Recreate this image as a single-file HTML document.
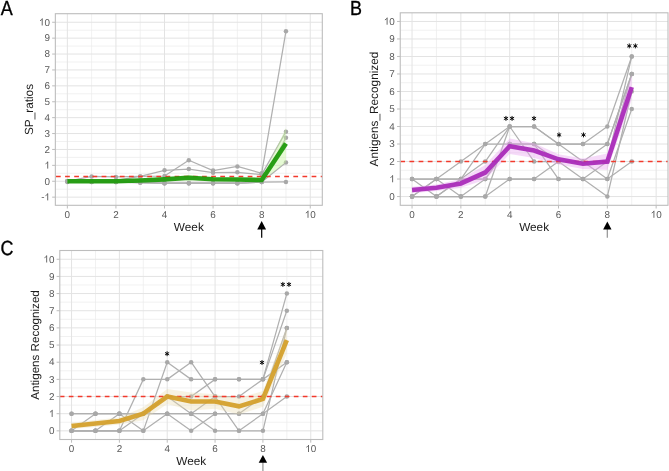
<!DOCTYPE html>
<html><head><meta charset="utf-8"><title>Figure</title>
<style>
html,body{margin:0;padding:0;background:#fff;}
body{width:669px;height:471px;overflow:hidden;font-family:"Liberation Sans", sans-serif;}
svg{display:block;will-change:transform;text-rendering:geometricPrecision;}
</style></head><body>
<svg width="669" height="471" viewBox="0 0 669 471" font-family='"Liberation Sans", sans-serif'>
<rect width="669" height="471" fill="#fff"/>
<text transform="translate(0.8,14.6) scale(0.88,1)" font-size="20.4" fill="#000" stroke="#000" stroke-width="0.35">A</text>
<text transform="translate(350.1,14.8) scale(0.88,1)" font-size="20.4" fill="#000" stroke="#000" stroke-width="0.35">B</text>
<text transform="translate(0.6,255.4) scale(0.88,1)" font-size="20.4" fill="#000" stroke="#000" stroke-width="0.35">C</text>
<line x1="91.64" y1="13.7" x2="91.64" y2="205.3" stroke="#ebebeb" stroke-width="0.7"/>
<line x1="140.22" y1="13.7" x2="140.22" y2="205.3" stroke="#ebebeb" stroke-width="0.7"/>
<line x1="188.8" y1="13.7" x2="188.8" y2="205.3" stroke="#ebebeb" stroke-width="0.7"/>
<line x1="237.38" y1="13.7" x2="237.38" y2="205.3" stroke="#ebebeb" stroke-width="0.7"/>
<line x1="285.96" y1="13.7" x2="285.96" y2="205.3" stroke="#ebebeb" stroke-width="0.7"/>
<line x1="55.35" y1="189.2" x2="322.3" y2="189.2" stroke="#ebebeb" stroke-width="0.7"/>
<line x1="55.35" y1="173.3" x2="322.3" y2="173.3" stroke="#ebebeb" stroke-width="0.7"/>
<line x1="55.35" y1="157.4" x2="322.3" y2="157.4" stroke="#ebebeb" stroke-width="0.7"/>
<line x1="55.35" y1="141.5" x2="322.3" y2="141.5" stroke="#ebebeb" stroke-width="0.7"/>
<line x1="55.35" y1="125.6" x2="322.3" y2="125.6" stroke="#ebebeb" stroke-width="0.7"/>
<line x1="55.35" y1="109.7" x2="322.3" y2="109.7" stroke="#ebebeb" stroke-width="0.7"/>
<line x1="55.35" y1="93.8" x2="322.3" y2="93.8" stroke="#ebebeb" stroke-width="0.7"/>
<line x1="55.35" y1="77.9" x2="322.3" y2="77.9" stroke="#ebebeb" stroke-width="0.7"/>
<line x1="55.35" y1="62" x2="322.3" y2="62" stroke="#ebebeb" stroke-width="0.7"/>
<line x1="55.35" y1="46.1" x2="322.3" y2="46.1" stroke="#ebebeb" stroke-width="0.7"/>
<line x1="55.35" y1="30.2" x2="322.3" y2="30.2" stroke="#ebebeb" stroke-width="0.7"/>
<line x1="67.35" y1="13.7" x2="67.35" y2="205.3" stroke="#e3e3e3" stroke-width="1"/>
<line x1="115.93" y1="13.7" x2="115.93" y2="205.3" stroke="#e3e3e3" stroke-width="1"/>
<line x1="164.51" y1="13.7" x2="164.51" y2="205.3" stroke="#e3e3e3" stroke-width="1"/>
<line x1="213.09" y1="13.7" x2="213.09" y2="205.3" stroke="#e3e3e3" stroke-width="1"/>
<line x1="261.67" y1="13.7" x2="261.67" y2="205.3" stroke="#e3e3e3" stroke-width="1"/>
<line x1="310.25" y1="13.7" x2="310.25" y2="205.3" stroke="#e3e3e3" stroke-width="1"/>
<line x1="55.35" y1="197.15" x2="322.3" y2="197.15" stroke="#e3e3e3" stroke-width="1"/>
<line x1="55.35" y1="181.25" x2="322.3" y2="181.25" stroke="#e3e3e3" stroke-width="1"/>
<line x1="55.35" y1="165.35" x2="322.3" y2="165.35" stroke="#e3e3e3" stroke-width="1"/>
<line x1="55.35" y1="149.45" x2="322.3" y2="149.45" stroke="#e3e3e3" stroke-width="1"/>
<line x1="55.35" y1="133.55" x2="322.3" y2="133.55" stroke="#e3e3e3" stroke-width="1"/>
<line x1="55.35" y1="117.65" x2="322.3" y2="117.65" stroke="#e3e3e3" stroke-width="1"/>
<line x1="55.35" y1="101.75" x2="322.3" y2="101.75" stroke="#e3e3e3" stroke-width="1"/>
<line x1="55.35" y1="85.85" x2="322.3" y2="85.85" stroke="#e3e3e3" stroke-width="1"/>
<line x1="55.35" y1="69.95" x2="322.3" y2="69.95" stroke="#e3e3e3" stroke-width="1"/>
<line x1="55.35" y1="54.05" x2="322.3" y2="54.05" stroke="#e3e3e3" stroke-width="1"/>
<line x1="55.35" y1="38.15" x2="322.3" y2="38.15" stroke="#e3e3e3" stroke-width="1"/>
<line x1="55.35" y1="22.25" x2="322.3" y2="22.25" stroke="#e3e3e3" stroke-width="1"/>
<polyline points="67.35,181.25 91.64,176.48 115.93,176.96 140.22,176.48 164.51,176 188.8,160.26 213.09,170.6 237.38,166.46 261.67,173.3 285.96,31.15" fill="none" stroke="#b0b0b0" stroke-width="1.25" stroke-linejoin="round"/>
<polyline points="67.35,181.25 91.64,181.25 115.93,180.46 140.22,176.48 164.51,170.28 188.8,169.01 213.09,172.66 237.38,172.35 261.67,174.57 285.96,131.64" fill="none" stroke="#b0b0b0" stroke-width="1.25" stroke-linejoin="round"/>
<polyline points="67.35,182.04 91.64,181.57 115.93,182.04 140.22,182.52 164.51,183.16 188.8,183.16 213.09,183.16 237.38,183.16 261.67,182.04 285.96,137.68" fill="none" stroke="#b0b0b0" stroke-width="1.25" stroke-linejoin="round"/>
<polyline points="67.35,181.25 91.64,182.04 115.93,182.04 140.22,182.52 164.51,183.16 188.8,183.16 213.09,183.16 237.38,183.16 261.67,182.04 285.96,162.49" fill="none" stroke="#b0b0b0" stroke-width="1.25" stroke-linejoin="round"/>
<polyline points="67.35,181.25 91.64,182.04 115.93,182.04 140.22,182.52 164.51,183.16 188.8,183.16 213.09,183.16 237.38,183.16 261.67,182.04 285.96,181.89" fill="none" stroke="#b0b0b0" stroke-width="1.25" stroke-linejoin="round"/>
<circle cx="67.35" cy="181.25" r="2.25" fill="#a8a8a8"/>
<circle cx="91.64" cy="176.48" r="2.25" fill="#a8a8a8"/>
<circle cx="115.93" cy="176.96" r="2.25" fill="#a8a8a8"/>
<circle cx="140.22" cy="176.48" r="2.25" fill="#a8a8a8"/>
<circle cx="164.51" cy="176" r="2.25" fill="#a8a8a8"/>
<circle cx="188.8" cy="160.26" r="2.25" fill="#a8a8a8"/>
<circle cx="213.09" cy="170.6" r="2.25" fill="#a8a8a8"/>
<circle cx="237.38" cy="166.46" r="2.25" fill="#a8a8a8"/>
<circle cx="261.67" cy="173.3" r="2.25" fill="#a8a8a8"/>
<circle cx="285.96" cy="31.15" r="2.25" fill="#a8a8a8"/>
<circle cx="67.35" cy="181.25" r="2.25" fill="#a8a8a8"/>
<circle cx="91.64" cy="181.25" r="2.25" fill="#a8a8a8"/>
<circle cx="115.93" cy="180.46" r="2.25" fill="#a8a8a8"/>
<circle cx="140.22" cy="176.48" r="2.25" fill="#a8a8a8"/>
<circle cx="164.51" cy="170.28" r="2.25" fill="#a8a8a8"/>
<circle cx="188.8" cy="169.01" r="2.25" fill="#a8a8a8"/>
<circle cx="213.09" cy="172.66" r="2.25" fill="#a8a8a8"/>
<circle cx="237.38" cy="172.35" r="2.25" fill="#a8a8a8"/>
<circle cx="261.67" cy="174.57" r="2.25" fill="#a8a8a8"/>
<circle cx="285.96" cy="131.64" r="2.25" fill="#a8a8a8"/>
<circle cx="67.35" cy="182.04" r="2.25" fill="#a8a8a8"/>
<circle cx="91.64" cy="181.57" r="2.25" fill="#a8a8a8"/>
<circle cx="115.93" cy="182.04" r="2.25" fill="#a8a8a8"/>
<circle cx="140.22" cy="182.52" r="2.25" fill="#a8a8a8"/>
<circle cx="164.51" cy="183.16" r="2.25" fill="#a8a8a8"/>
<circle cx="188.8" cy="183.16" r="2.25" fill="#a8a8a8"/>
<circle cx="213.09" cy="183.16" r="2.25" fill="#a8a8a8"/>
<circle cx="237.38" cy="183.16" r="2.25" fill="#a8a8a8"/>
<circle cx="261.67" cy="182.04" r="2.25" fill="#a8a8a8"/>
<circle cx="285.96" cy="137.68" r="2.25" fill="#a8a8a8"/>
<circle cx="67.35" cy="181.25" r="2.25" fill="#a8a8a8"/>
<circle cx="91.64" cy="182.04" r="2.25" fill="#a8a8a8"/>
<circle cx="115.93" cy="182.04" r="2.25" fill="#a8a8a8"/>
<circle cx="140.22" cy="182.52" r="2.25" fill="#a8a8a8"/>
<circle cx="164.51" cy="183.16" r="2.25" fill="#a8a8a8"/>
<circle cx="188.8" cy="183.16" r="2.25" fill="#a8a8a8"/>
<circle cx="213.09" cy="183.16" r="2.25" fill="#a8a8a8"/>
<circle cx="237.38" cy="183.16" r="2.25" fill="#a8a8a8"/>
<circle cx="261.67" cy="182.04" r="2.25" fill="#a8a8a8"/>
<circle cx="285.96" cy="162.49" r="2.25" fill="#a8a8a8"/>
<circle cx="67.35" cy="181.25" r="2.25" fill="#a8a8a8"/>
<circle cx="91.64" cy="182.04" r="2.25" fill="#a8a8a8"/>
<circle cx="115.93" cy="182.04" r="2.25" fill="#a8a8a8"/>
<circle cx="140.22" cy="182.52" r="2.25" fill="#a8a8a8"/>
<circle cx="164.51" cy="183.16" r="2.25" fill="#a8a8a8"/>
<circle cx="188.8" cy="183.16" r="2.25" fill="#a8a8a8"/>
<circle cx="213.09" cy="183.16" r="2.25" fill="#a8a8a8"/>
<circle cx="237.38" cy="183.16" r="2.25" fill="#a8a8a8"/>
<circle cx="261.67" cy="182.04" r="2.25" fill="#a8a8a8"/>
<circle cx="285.96" cy="181.89" r="2.25" fill="#a8a8a8"/>
<polygon points="67.35,180.46 91.64,180.14 115.93,179.98 140.22,179.02 164.51,177.75 188.8,174.89 213.09,177.75 237.38,178.07 261.67,178.71 285.96,127.98 285.96,162.17 261.67,181.25 237.38,180.93 213.09,180.77 188.8,180.46 164.51,180.93 140.22,181.25 115.93,181.57 91.64,181.73 67.35,182.04" fill="#c4f29a" fill-opacity="0.42"/>
<line x1="55.35" y1="176.48" x2="322.3" y2="176.48" stroke="#f23a2c" stroke-width="1.5" stroke-dasharray="4.75 4.38" stroke-dashoffset="-0.6"/>
<polyline points="67.35,181.25 91.64,181.25 115.93,181.25 140.22,180.46 164.51,179.34 188.8,177.75 213.09,179.18 237.38,179.5 261.67,179.98 285.96,143.41" fill="none" stroke="#1f9a0c" stroke-width="4.6" stroke-linejoin="miter" stroke-linecap="butt" stroke-opacity="0.95"/>
<rect x="55.35" y="13.7" width="266.95" height="191.6" fill="none" stroke="#bdbdbd" stroke-width="1.1"/>
<line x1="67.35" y1="205.3" x2="67.35" y2="208.5" stroke="#bdbdbd" stroke-width="1"/>
<text x="64.6" y="217.8" font-size="9.9" fill="#5a5a5a">0</text>
<line x1="115.93" y1="205.3" x2="115.93" y2="208.5" stroke="#bdbdbd" stroke-width="1"/>
<text x="113.18" y="217.8" font-size="9.9" fill="#5a5a5a">2</text>
<line x1="164.51" y1="205.3" x2="164.51" y2="208.5" stroke="#bdbdbd" stroke-width="1"/>
<text x="161.76" y="217.8" font-size="9.9" fill="#5a5a5a">4</text>
<line x1="213.09" y1="205.3" x2="213.09" y2="208.5" stroke="#bdbdbd" stroke-width="1"/>
<text x="210.34" y="217.8" font-size="9.9" fill="#5a5a5a">6</text>
<line x1="261.67" y1="205.3" x2="261.67" y2="208.5" stroke="#bdbdbd" stroke-width="1"/>
<text x="258.92" y="217.8" font-size="9.9" fill="#5a5a5a">8</text>
<line x1="310.25" y1="205.3" x2="310.25" y2="208.5" stroke="#bdbdbd" stroke-width="1"/>
<path d="M308.01,217.8V210.87M308.21,211.17C307.42,212.06 306.63,212.55 305.83,213.05" stroke="#5a5a5a" stroke-width="0.91" fill="none"/><text x="310.25" y="217.8" font-size="9.9" fill="#5a5a5a">0</text>
<line x1="52.15" y1="197.15" x2="55.35" y2="197.15" stroke="#bdbdbd" stroke-width="1"/>
<text x="41.15" y="200.4" font-size="9.9" fill="#5a5a5a">-</text><path d="M47.71,200.4V193.47M47.91,193.77C47.12,194.66 46.33,195.15 45.53,195.65" stroke="#5a5a5a" stroke-width="0.91" fill="none"/>
<line x1="52.15" y1="181.25" x2="55.35" y2="181.25" stroke="#bdbdbd" stroke-width="1"/>
<text x="44.45" y="184.5" font-size="9.9" fill="#5a5a5a">0</text>
<line x1="52.15" y1="165.35" x2="55.35" y2="165.35" stroke="#bdbdbd" stroke-width="1"/>
<path d="M47.71,168.6V161.67M47.91,161.97C47.12,162.86 46.33,163.35 45.53,163.85" stroke="#5a5a5a" stroke-width="0.91" fill="none"/>
<line x1="52.15" y1="149.45" x2="55.35" y2="149.45" stroke="#bdbdbd" stroke-width="1"/>
<text x="44.45" y="152.7" font-size="9.9" fill="#5a5a5a">2</text>
<line x1="52.15" y1="133.55" x2="55.35" y2="133.55" stroke="#bdbdbd" stroke-width="1"/>
<text x="44.45" y="136.8" font-size="9.9" fill="#5a5a5a">3</text>
<line x1="52.15" y1="117.65" x2="55.35" y2="117.65" stroke="#bdbdbd" stroke-width="1"/>
<text x="44.45" y="120.9" font-size="9.9" fill="#5a5a5a">4</text>
<line x1="52.15" y1="101.75" x2="55.35" y2="101.75" stroke="#bdbdbd" stroke-width="1"/>
<text x="44.45" y="105" font-size="9.9" fill="#5a5a5a">5</text>
<line x1="52.15" y1="85.85" x2="55.35" y2="85.85" stroke="#bdbdbd" stroke-width="1"/>
<text x="44.45" y="89.1" font-size="9.9" fill="#5a5a5a">6</text>
<line x1="52.15" y1="69.95" x2="55.35" y2="69.95" stroke="#bdbdbd" stroke-width="1"/>
<text x="44.45" y="73.2" font-size="9.9" fill="#5a5a5a">7</text>
<line x1="52.15" y1="54.05" x2="55.35" y2="54.05" stroke="#bdbdbd" stroke-width="1"/>
<text x="44.45" y="57.3" font-size="9.9" fill="#5a5a5a">8</text>
<line x1="52.15" y1="38.15" x2="55.35" y2="38.15" stroke="#bdbdbd" stroke-width="1"/>
<text x="44.45" y="41.4" font-size="9.9" fill="#5a5a5a">9</text>
<line x1="52.15" y1="22.25" x2="55.35" y2="22.25" stroke="#bdbdbd" stroke-width="1"/>
<path d="M42.21,25.5V18.57M42.41,18.87C41.61,19.76 40.82,20.25 40.03,20.75" stroke="#5a5a5a" stroke-width="0.91" fill="none"/><text x="44.45" y="25.5" font-size="9.9" fill="#5a5a5a">0</text>
<line x1="436.46" y1="12.8" x2="436.46" y2="205.3" stroke="#ebebeb" stroke-width="0.7"/>
<line x1="485.28" y1="12.8" x2="485.28" y2="205.3" stroke="#ebebeb" stroke-width="0.7"/>
<line x1="534.1" y1="12.8" x2="534.1" y2="205.3" stroke="#ebebeb" stroke-width="0.7"/>
<line x1="582.92" y1="12.8" x2="582.92" y2="205.3" stroke="#ebebeb" stroke-width="0.7"/>
<line x1="631.74" y1="12.8" x2="631.74" y2="205.3" stroke="#ebebeb" stroke-width="0.7"/>
<line x1="400.25" y1="187.8" x2="668" y2="187.8" stroke="#ebebeb" stroke-width="0.7"/>
<line x1="400.25" y1="170.29" x2="668" y2="170.29" stroke="#ebebeb" stroke-width="0.7"/>
<line x1="400.25" y1="152.78" x2="668" y2="152.78" stroke="#ebebeb" stroke-width="0.7"/>
<line x1="400.25" y1="135.27" x2="668" y2="135.27" stroke="#ebebeb" stroke-width="0.7"/>
<line x1="400.25" y1="117.76" x2="668" y2="117.76" stroke="#ebebeb" stroke-width="0.7"/>
<line x1="400.25" y1="100.25" x2="668" y2="100.25" stroke="#ebebeb" stroke-width="0.7"/>
<line x1="400.25" y1="82.73" x2="668" y2="82.73" stroke="#ebebeb" stroke-width="0.7"/>
<line x1="400.25" y1="65.22" x2="668" y2="65.22" stroke="#ebebeb" stroke-width="0.7"/>
<line x1="400.25" y1="47.72" x2="668" y2="47.72" stroke="#ebebeb" stroke-width="0.7"/>
<line x1="400.25" y1="30.2" x2="668" y2="30.2" stroke="#ebebeb" stroke-width="0.7"/>
<line x1="412.05" y1="12.8" x2="412.05" y2="205.3" stroke="#e3e3e3" stroke-width="1"/>
<line x1="460.87" y1="12.8" x2="460.87" y2="205.3" stroke="#e3e3e3" stroke-width="1"/>
<line x1="509.69" y1="12.8" x2="509.69" y2="205.3" stroke="#e3e3e3" stroke-width="1"/>
<line x1="558.51" y1="12.8" x2="558.51" y2="205.3" stroke="#e3e3e3" stroke-width="1"/>
<line x1="607.33" y1="12.8" x2="607.33" y2="205.3" stroke="#e3e3e3" stroke-width="1"/>
<line x1="656.15" y1="12.8" x2="656.15" y2="205.3" stroke="#e3e3e3" stroke-width="1"/>
<line x1="400.25" y1="196.55" x2="668" y2="196.55" stroke="#e3e3e3" stroke-width="1"/>
<line x1="400.25" y1="179.04" x2="668" y2="179.04" stroke="#e3e3e3" stroke-width="1"/>
<line x1="400.25" y1="161.53" x2="668" y2="161.53" stroke="#e3e3e3" stroke-width="1"/>
<line x1="400.25" y1="144.02" x2="668" y2="144.02" stroke="#e3e3e3" stroke-width="1"/>
<line x1="400.25" y1="126.51" x2="668" y2="126.51" stroke="#e3e3e3" stroke-width="1"/>
<line x1="400.25" y1="109" x2="668" y2="109" stroke="#e3e3e3" stroke-width="1"/>
<line x1="400.25" y1="91.49" x2="668" y2="91.49" stroke="#e3e3e3" stroke-width="1"/>
<line x1="400.25" y1="73.98" x2="668" y2="73.98" stroke="#e3e3e3" stroke-width="1"/>
<line x1="400.25" y1="56.47" x2="668" y2="56.47" stroke="#e3e3e3" stroke-width="1"/>
<line x1="400.25" y1="38.96" x2="668" y2="38.96" stroke="#e3e3e3" stroke-width="1"/>
<line x1="400.25" y1="21.45" x2="668" y2="21.45" stroke="#e3e3e3" stroke-width="1"/>
<polyline points="412.05,179.04 436.46,179.04 460.87,161.53 485.28,144.02 509.69,126.51 534.1,126.51 558.51,144.02 582.92,144.02 607.33,126.51 631.74,56.47" fill="none" stroke="#b0b0b0" stroke-width="1.25" stroke-linejoin="round"/>
<polyline points="412.05,179.04 436.46,196.55 460.87,179.04 485.28,161.53 509.69,126.51 534.1,126.51 558.51,144.02 582.92,144.02 607.33,144.02 631.74,73.98" fill="none" stroke="#b0b0b0" stroke-width="1.25" stroke-linejoin="round"/>
<polyline points="412.05,196.55 436.46,179.04 460.87,179.04 485.28,144.02 509.69,144.02 534.1,144.02 558.51,144.02 582.92,161.53 607.33,161.53 631.74,73.98" fill="none" stroke="#b0b0b0" stroke-width="1.25" stroke-linejoin="round"/>
<polyline points="412.05,179.04 436.46,179.04 460.87,179.04 485.28,179.04 509.69,144.02 534.1,144.02 558.51,161.53 582.92,161.53 607.33,179.04 631.74,161.53" fill="none" stroke="#b0b0b0" stroke-width="1.25" stroke-linejoin="round"/>
<polyline points="412.05,196.55 436.46,179.04 460.87,196.55 485.28,179.04 509.69,144.02 534.1,144.02 558.51,179.04 582.92,179.04 607.33,196.55 631.74,91.49" fill="none" stroke="#b0b0b0" stroke-width="1.25" stroke-linejoin="round"/>
<polyline points="412.05,196.55 436.46,196.55 460.87,179.04 485.28,179.04 509.69,179.04 534.1,179.04 558.51,161.53 582.92,179.04 607.33,179.04 631.74,109" fill="none" stroke="#b0b0b0" stroke-width="1.25" stroke-linejoin="round"/>
<polyline points="412.05,196.55 436.46,196.55 460.87,196.55 485.28,196.55 509.69,126.51 534.1,161.53 558.51,161.53 582.92,161.53 607.33,144.02 631.74,73.98" fill="none" stroke="#b0b0b0" stroke-width="1.25" stroke-linejoin="round"/>
<polyline points="412.05,196.55 436.46,196.55 460.87,196.55 485.28,196.55 509.69,179.04 534.1,179.04 558.51,179.04 582.92,179.04 607.33,161.53 631.74,56.47" fill="none" stroke="#b0b0b0" stroke-width="1.25" stroke-linejoin="round"/>
<circle cx="412.05" cy="179.04" r="2.25" fill="#a8a8a8"/>
<circle cx="436.46" cy="179.04" r="2.25" fill="#a8a8a8"/>
<circle cx="460.87" cy="161.53" r="2.25" fill="#a8a8a8"/>
<circle cx="485.28" cy="144.02" r="2.25" fill="#a8a8a8"/>
<circle cx="509.69" cy="126.51" r="2.25" fill="#a8a8a8"/>
<circle cx="534.1" cy="126.51" r="2.25" fill="#a8a8a8"/>
<circle cx="558.51" cy="144.02" r="2.25" fill="#a8a8a8"/>
<circle cx="582.92" cy="144.02" r="2.25" fill="#a8a8a8"/>
<circle cx="607.33" cy="126.51" r="2.25" fill="#a8a8a8"/>
<circle cx="631.74" cy="56.47" r="2.25" fill="#a8a8a8"/>
<circle cx="412.05" cy="179.04" r="2.25" fill="#a8a8a8"/>
<circle cx="436.46" cy="196.55" r="2.25" fill="#a8a8a8"/>
<circle cx="460.87" cy="179.04" r="2.25" fill="#a8a8a8"/>
<circle cx="485.28" cy="161.53" r="2.25" fill="#a8a8a8"/>
<circle cx="509.69" cy="126.51" r="2.25" fill="#a8a8a8"/>
<circle cx="534.1" cy="126.51" r="2.25" fill="#a8a8a8"/>
<circle cx="558.51" cy="144.02" r="2.25" fill="#a8a8a8"/>
<circle cx="582.92" cy="144.02" r="2.25" fill="#a8a8a8"/>
<circle cx="607.33" cy="144.02" r="2.25" fill="#a8a8a8"/>
<circle cx="631.74" cy="73.98" r="2.25" fill="#a8a8a8"/>
<circle cx="412.05" cy="196.55" r="2.25" fill="#a8a8a8"/>
<circle cx="436.46" cy="179.04" r="2.25" fill="#a8a8a8"/>
<circle cx="460.87" cy="179.04" r="2.25" fill="#a8a8a8"/>
<circle cx="485.28" cy="144.02" r="2.25" fill="#a8a8a8"/>
<circle cx="509.69" cy="144.02" r="2.25" fill="#a8a8a8"/>
<circle cx="534.1" cy="144.02" r="2.25" fill="#a8a8a8"/>
<circle cx="558.51" cy="144.02" r="2.25" fill="#a8a8a8"/>
<circle cx="582.92" cy="161.53" r="2.25" fill="#a8a8a8"/>
<circle cx="607.33" cy="161.53" r="2.25" fill="#a8a8a8"/>
<circle cx="631.74" cy="73.98" r="2.25" fill="#a8a8a8"/>
<circle cx="412.05" cy="179.04" r="2.25" fill="#a8a8a8"/>
<circle cx="436.46" cy="179.04" r="2.25" fill="#a8a8a8"/>
<circle cx="460.87" cy="179.04" r="2.25" fill="#a8a8a8"/>
<circle cx="485.28" cy="179.04" r="2.25" fill="#a8a8a8"/>
<circle cx="509.69" cy="144.02" r="2.25" fill="#a8a8a8"/>
<circle cx="534.1" cy="144.02" r="2.25" fill="#a8a8a8"/>
<circle cx="558.51" cy="161.53" r="2.25" fill="#a8a8a8"/>
<circle cx="582.92" cy="161.53" r="2.25" fill="#a8a8a8"/>
<circle cx="607.33" cy="179.04" r="2.25" fill="#a8a8a8"/>
<circle cx="631.74" cy="161.53" r="2.25" fill="#a8a8a8"/>
<circle cx="412.05" cy="196.55" r="2.25" fill="#a8a8a8"/>
<circle cx="436.46" cy="179.04" r="2.25" fill="#a8a8a8"/>
<circle cx="460.87" cy="196.55" r="2.25" fill="#a8a8a8"/>
<circle cx="485.28" cy="179.04" r="2.25" fill="#a8a8a8"/>
<circle cx="509.69" cy="144.02" r="2.25" fill="#a8a8a8"/>
<circle cx="534.1" cy="144.02" r="2.25" fill="#a8a8a8"/>
<circle cx="558.51" cy="179.04" r="2.25" fill="#a8a8a8"/>
<circle cx="582.92" cy="179.04" r="2.25" fill="#a8a8a8"/>
<circle cx="607.33" cy="196.55" r="2.25" fill="#a8a8a8"/>
<circle cx="631.74" cy="91.49" r="2.25" fill="#a8a8a8"/>
<circle cx="412.05" cy="196.55" r="2.25" fill="#a8a8a8"/>
<circle cx="436.46" cy="196.55" r="2.25" fill="#a8a8a8"/>
<circle cx="460.87" cy="179.04" r="2.25" fill="#a8a8a8"/>
<circle cx="485.28" cy="179.04" r="2.25" fill="#a8a8a8"/>
<circle cx="509.69" cy="179.04" r="2.25" fill="#a8a8a8"/>
<circle cx="534.1" cy="179.04" r="2.25" fill="#a8a8a8"/>
<circle cx="558.51" cy="161.53" r="2.25" fill="#a8a8a8"/>
<circle cx="582.92" cy="179.04" r="2.25" fill="#a8a8a8"/>
<circle cx="607.33" cy="179.04" r="2.25" fill="#a8a8a8"/>
<circle cx="631.74" cy="109" r="2.25" fill="#a8a8a8"/>
<circle cx="412.05" cy="196.55" r="2.25" fill="#a8a8a8"/>
<circle cx="436.46" cy="196.55" r="2.25" fill="#a8a8a8"/>
<circle cx="460.87" cy="196.55" r="2.25" fill="#a8a8a8"/>
<circle cx="485.28" cy="196.55" r="2.25" fill="#a8a8a8"/>
<circle cx="509.69" cy="126.51" r="2.25" fill="#a8a8a8"/>
<circle cx="534.1" cy="161.53" r="2.25" fill="#a8a8a8"/>
<circle cx="558.51" cy="161.53" r="2.25" fill="#a8a8a8"/>
<circle cx="582.92" cy="161.53" r="2.25" fill="#a8a8a8"/>
<circle cx="607.33" cy="144.02" r="2.25" fill="#a8a8a8"/>
<circle cx="631.74" cy="73.98" r="2.25" fill="#a8a8a8"/>
<circle cx="412.05" cy="196.55" r="2.25" fill="#a8a8a8"/>
<circle cx="436.46" cy="196.55" r="2.25" fill="#a8a8a8"/>
<circle cx="460.87" cy="196.55" r="2.25" fill="#a8a8a8"/>
<circle cx="485.28" cy="196.55" r="2.25" fill="#a8a8a8"/>
<circle cx="509.69" cy="179.04" r="2.25" fill="#a8a8a8"/>
<circle cx="534.1" cy="179.04" r="2.25" fill="#a8a8a8"/>
<circle cx="558.51" cy="179.04" r="2.25" fill="#a8a8a8"/>
<circle cx="582.92" cy="179.04" r="2.25" fill="#a8a8a8"/>
<circle cx="607.33" cy="161.53" r="2.25" fill="#a8a8a8"/>
<circle cx="631.74" cy="56.47" r="2.25" fill="#a8a8a8"/>
<polygon points="412.05,186.78 436.46,184.49 460.87,179.04 485.28,165.12 509.69,138.49 534.1,143.23 558.51,154.17 582.92,158.55 607.33,153.42 631.74,74.84 631.74,99.38 607.33,169.64 582.92,168.89 558.51,164.51 534.1,157.94 509.69,153.93 485.28,179.83 460.87,187.8 436.46,191.1 412.05,193.19" fill="#eaa6f0" fill-opacity="0.42"/>
<line x1="400.25" y1="161.53" x2="668" y2="161.53" stroke="#f23a2c" stroke-width="1.5" stroke-dasharray="4.77 4.4" stroke-dashoffset="0"/>
<polyline points="412.05,189.98 436.46,187.8 460.87,183.42 485.28,172.47 509.69,146.21 534.1,150.59 558.51,159.34 582.92,163.72 607.33,161.53 631.74,87.11" fill="none" stroke="#aa2cb9" stroke-width="4.6" stroke-linejoin="miter" stroke-linecap="butt" stroke-opacity="0.95"/>
<rect x="400.25" y="12.8" width="267.75" height="192.5" fill="none" stroke="#bdbdbd" stroke-width="1.1"/>
<line x1="412.05" y1="205.3" x2="412.05" y2="208.5" stroke="#bdbdbd" stroke-width="1"/>
<text x="409.3" y="217.8" font-size="9.9" fill="#5a5a5a">0</text>
<line x1="460.87" y1="205.3" x2="460.87" y2="208.5" stroke="#bdbdbd" stroke-width="1"/>
<text x="458.12" y="217.8" font-size="9.9" fill="#5a5a5a">2</text>
<line x1="509.69" y1="205.3" x2="509.69" y2="208.5" stroke="#bdbdbd" stroke-width="1"/>
<text x="506.94" y="217.8" font-size="9.9" fill="#5a5a5a">4</text>
<line x1="558.51" y1="205.3" x2="558.51" y2="208.5" stroke="#bdbdbd" stroke-width="1"/>
<text x="555.76" y="217.8" font-size="9.9" fill="#5a5a5a">6</text>
<line x1="607.33" y1="205.3" x2="607.33" y2="208.5" stroke="#bdbdbd" stroke-width="1"/>
<text x="604.58" y="217.8" font-size="9.9" fill="#5a5a5a">8</text>
<line x1="656.15" y1="205.3" x2="656.15" y2="208.5" stroke="#bdbdbd" stroke-width="1"/>
<path d="M653.91,217.8V210.87M654.11,211.17C653.32,212.06 652.53,212.55 651.73,213.05" stroke="#5a5a5a" stroke-width="0.91" fill="none"/><text x="656.15" y="217.8" font-size="9.9" fill="#5a5a5a">0</text>
<line x1="397.05" y1="196.55" x2="400.25" y2="196.55" stroke="#bdbdbd" stroke-width="1"/>
<text x="389.35" y="199.8" font-size="9.9" fill="#5a5a5a">0</text>
<line x1="397.05" y1="179.04" x2="400.25" y2="179.04" stroke="#bdbdbd" stroke-width="1"/>
<path d="M392.61,182.29V175.36M392.81,175.66C392.02,176.55 391.23,177.04 390.43,177.54" stroke="#5a5a5a" stroke-width="0.91" fill="none"/>
<line x1="397.05" y1="161.53" x2="400.25" y2="161.53" stroke="#bdbdbd" stroke-width="1"/>
<text x="389.35" y="164.78" font-size="9.9" fill="#5a5a5a">2</text>
<line x1="397.05" y1="144.02" x2="400.25" y2="144.02" stroke="#bdbdbd" stroke-width="1"/>
<text x="389.35" y="147.27" font-size="9.9" fill="#5a5a5a">3</text>
<line x1="397.05" y1="126.51" x2="400.25" y2="126.51" stroke="#bdbdbd" stroke-width="1"/>
<text x="389.35" y="129.76" font-size="9.9" fill="#5a5a5a">4</text>
<line x1="397.05" y1="109" x2="400.25" y2="109" stroke="#bdbdbd" stroke-width="1"/>
<text x="389.35" y="112.25" font-size="9.9" fill="#5a5a5a">5</text>
<line x1="397.05" y1="91.49" x2="400.25" y2="91.49" stroke="#bdbdbd" stroke-width="1"/>
<text x="389.35" y="94.74" font-size="9.9" fill="#5a5a5a">6</text>
<line x1="397.05" y1="73.98" x2="400.25" y2="73.98" stroke="#bdbdbd" stroke-width="1"/>
<text x="389.35" y="77.23" font-size="9.9" fill="#5a5a5a">7</text>
<line x1="397.05" y1="56.47" x2="400.25" y2="56.47" stroke="#bdbdbd" stroke-width="1"/>
<text x="389.35" y="59.72" font-size="9.9" fill="#5a5a5a">8</text>
<line x1="397.05" y1="38.96" x2="400.25" y2="38.96" stroke="#bdbdbd" stroke-width="1"/>
<text x="389.35" y="42.21" font-size="9.9" fill="#5a5a5a">9</text>
<line x1="397.05" y1="21.45" x2="400.25" y2="21.45" stroke="#bdbdbd" stroke-width="1"/>
<path d="M387.11,24.7V17.77M387.31,18.07C386.51,18.96 385.72,19.45 384.93,19.95" stroke="#5a5a5a" stroke-width="0.91" fill="none"/><text x="389.35" y="24.7" font-size="9.9" fill="#5a5a5a">0</text>
<line x1="95.47" y1="250.5" x2="95.47" y2="439.5" stroke="#ebebeb" stroke-width="0.7"/>
<line x1="143.31" y1="250.5" x2="143.31" y2="439.5" stroke="#ebebeb" stroke-width="0.7"/>
<line x1="191.15" y1="250.5" x2="191.15" y2="439.5" stroke="#ebebeb" stroke-width="0.7"/>
<line x1="238.99" y1="250.5" x2="238.99" y2="439.5" stroke="#ebebeb" stroke-width="0.7"/>
<line x1="286.83" y1="250.5" x2="286.83" y2="439.5" stroke="#ebebeb" stroke-width="0.7"/>
<line x1="59.8" y1="422.27" x2="322.8" y2="422.27" stroke="#ebebeb" stroke-width="0.7"/>
<line x1="59.8" y1="405.11" x2="322.8" y2="405.11" stroke="#ebebeb" stroke-width="0.7"/>
<line x1="59.8" y1="387.95" x2="322.8" y2="387.95" stroke="#ebebeb" stroke-width="0.7"/>
<line x1="59.8" y1="370.79" x2="322.8" y2="370.79" stroke="#ebebeb" stroke-width="0.7"/>
<line x1="59.8" y1="353.63" x2="322.8" y2="353.63" stroke="#ebebeb" stroke-width="0.7"/>
<line x1="59.8" y1="336.47" x2="322.8" y2="336.47" stroke="#ebebeb" stroke-width="0.7"/>
<line x1="59.8" y1="319.31" x2="322.8" y2="319.31" stroke="#ebebeb" stroke-width="0.7"/>
<line x1="59.8" y1="302.15" x2="322.8" y2="302.15" stroke="#ebebeb" stroke-width="0.7"/>
<line x1="59.8" y1="284.99" x2="322.8" y2="284.99" stroke="#ebebeb" stroke-width="0.7"/>
<line x1="59.8" y1="267.83" x2="322.8" y2="267.83" stroke="#ebebeb" stroke-width="0.7"/>
<line x1="71.55" y1="250.5" x2="71.55" y2="439.5" stroke="#e3e3e3" stroke-width="1"/>
<line x1="119.39" y1="250.5" x2="119.39" y2="439.5" stroke="#e3e3e3" stroke-width="1"/>
<line x1="167.23" y1="250.5" x2="167.23" y2="439.5" stroke="#e3e3e3" stroke-width="1"/>
<line x1="215.07" y1="250.5" x2="215.07" y2="439.5" stroke="#e3e3e3" stroke-width="1"/>
<line x1="262.91" y1="250.5" x2="262.91" y2="439.5" stroke="#e3e3e3" stroke-width="1"/>
<line x1="310.75" y1="250.5" x2="310.75" y2="439.5" stroke="#e3e3e3" stroke-width="1"/>
<line x1="59.8" y1="430.85" x2="322.8" y2="430.85" stroke="#e3e3e3" stroke-width="1"/>
<line x1="59.8" y1="413.69" x2="322.8" y2="413.69" stroke="#e3e3e3" stroke-width="1"/>
<line x1="59.8" y1="396.53" x2="322.8" y2="396.53" stroke="#e3e3e3" stroke-width="1"/>
<line x1="59.8" y1="379.37" x2="322.8" y2="379.37" stroke="#e3e3e3" stroke-width="1"/>
<line x1="59.8" y1="362.21" x2="322.8" y2="362.21" stroke="#e3e3e3" stroke-width="1"/>
<line x1="59.8" y1="345.05" x2="322.8" y2="345.05" stroke="#e3e3e3" stroke-width="1"/>
<line x1="59.8" y1="327.89" x2="322.8" y2="327.89" stroke="#e3e3e3" stroke-width="1"/>
<line x1="59.8" y1="310.73" x2="322.8" y2="310.73" stroke="#e3e3e3" stroke-width="1"/>
<line x1="59.8" y1="293.57" x2="322.8" y2="293.57" stroke="#e3e3e3" stroke-width="1"/>
<line x1="59.8" y1="276.41" x2="322.8" y2="276.41" stroke="#e3e3e3" stroke-width="1"/>
<line x1="59.8" y1="259.25" x2="322.8" y2="259.25" stroke="#e3e3e3" stroke-width="1"/>
<polyline points="71.55,413.69 95.47,413.69 119.39,413.69 143.31,430.85 167.23,362.21 191.15,379.37 215.07,379.37 238.99,379.37 262.91,379.37 286.83,293.57" fill="none" stroke="#b0b0b0" stroke-width="1.25" stroke-linejoin="round"/>
<polyline points="71.55,413.69 95.47,413.69 119.39,413.69 143.31,413.69 167.23,413.69 191.15,413.69 215.07,413.69 238.99,413.69 262.91,413.69 286.83,362.21" fill="none" stroke="#b0b0b0" stroke-width="1.25" stroke-linejoin="round"/>
<polyline points="71.55,430.85 95.47,413.69 119.39,413.69 143.31,413.69 167.23,396.53 191.15,396.53 215.07,379.37 238.99,379.37 262.91,379.37 286.83,310.73" fill="none" stroke="#b0b0b0" stroke-width="1.25" stroke-linejoin="round"/>
<polyline points="71.55,430.85 95.47,430.85 119.39,413.69 143.31,413.69 167.23,413.69 191.15,430.85 215.07,413.69 238.99,413.69 262.91,396.53 286.83,327.89" fill="none" stroke="#b0b0b0" stroke-width="1.25" stroke-linejoin="round"/>
<polyline points="71.55,430.85 95.47,430.85 119.39,430.85 143.31,379.37 167.23,379.37 191.15,362.21 215.07,396.53 238.99,430.85 262.91,413.69 286.83,396.53" fill="none" stroke="#b0b0b0" stroke-width="1.25" stroke-linejoin="round"/>
<polyline points="71.55,430.85 95.47,430.85 119.39,430.85 143.31,413.69 167.23,396.53 191.15,413.69 215.07,430.85 238.99,430.85 262.91,430.85 286.83,327.89" fill="none" stroke="#b0b0b0" stroke-width="1.25" stroke-linejoin="round"/>
<polyline points="71.55,430.85 95.47,430.85 119.39,430.85 143.31,430.85 167.23,413.69 191.15,413.69 215.07,396.53 238.99,396.53 262.91,379.37 286.83,362.21" fill="none" stroke="#b0b0b0" stroke-width="1.25" stroke-linejoin="round"/>
<circle cx="71.55" cy="413.69" r="2.25" fill="#a8a8a8"/>
<circle cx="95.47" cy="413.69" r="2.25" fill="#a8a8a8"/>
<circle cx="119.39" cy="413.69" r="2.25" fill="#a8a8a8"/>
<circle cx="143.31" cy="430.85" r="2.25" fill="#a8a8a8"/>
<circle cx="167.23" cy="362.21" r="2.25" fill="#a8a8a8"/>
<circle cx="191.15" cy="379.37" r="2.25" fill="#a8a8a8"/>
<circle cx="215.07" cy="379.37" r="2.25" fill="#a8a8a8"/>
<circle cx="238.99" cy="379.37" r="2.25" fill="#a8a8a8"/>
<circle cx="262.91" cy="379.37" r="2.25" fill="#a8a8a8"/>
<circle cx="286.83" cy="293.57" r="2.25" fill="#a8a8a8"/>
<circle cx="71.55" cy="413.69" r="2.25" fill="#a8a8a8"/>
<circle cx="95.47" cy="413.69" r="2.25" fill="#a8a8a8"/>
<circle cx="119.39" cy="413.69" r="2.25" fill="#a8a8a8"/>
<circle cx="143.31" cy="413.69" r="2.25" fill="#a8a8a8"/>
<circle cx="167.23" cy="413.69" r="2.25" fill="#a8a8a8"/>
<circle cx="191.15" cy="413.69" r="2.25" fill="#a8a8a8"/>
<circle cx="215.07" cy="413.69" r="2.25" fill="#a8a8a8"/>
<circle cx="238.99" cy="413.69" r="2.25" fill="#a8a8a8"/>
<circle cx="262.91" cy="413.69" r="2.25" fill="#a8a8a8"/>
<circle cx="286.83" cy="362.21" r="2.25" fill="#a8a8a8"/>
<circle cx="71.55" cy="430.85" r="2.25" fill="#a8a8a8"/>
<circle cx="95.47" cy="413.69" r="2.25" fill="#a8a8a8"/>
<circle cx="119.39" cy="413.69" r="2.25" fill="#a8a8a8"/>
<circle cx="143.31" cy="413.69" r="2.25" fill="#a8a8a8"/>
<circle cx="167.23" cy="396.53" r="2.25" fill="#a8a8a8"/>
<circle cx="191.15" cy="396.53" r="2.25" fill="#a8a8a8"/>
<circle cx="215.07" cy="379.37" r="2.25" fill="#a8a8a8"/>
<circle cx="238.99" cy="379.37" r="2.25" fill="#a8a8a8"/>
<circle cx="262.91" cy="379.37" r="2.25" fill="#a8a8a8"/>
<circle cx="286.83" cy="310.73" r="2.25" fill="#a8a8a8"/>
<circle cx="71.55" cy="430.85" r="2.25" fill="#a8a8a8"/>
<circle cx="95.47" cy="430.85" r="2.25" fill="#a8a8a8"/>
<circle cx="119.39" cy="413.69" r="2.25" fill="#a8a8a8"/>
<circle cx="143.31" cy="413.69" r="2.25" fill="#a8a8a8"/>
<circle cx="167.23" cy="413.69" r="2.25" fill="#a8a8a8"/>
<circle cx="191.15" cy="430.85" r="2.25" fill="#a8a8a8"/>
<circle cx="215.07" cy="413.69" r="2.25" fill="#a8a8a8"/>
<circle cx="238.99" cy="413.69" r="2.25" fill="#a8a8a8"/>
<circle cx="262.91" cy="396.53" r="2.25" fill="#a8a8a8"/>
<circle cx="286.83" cy="327.89" r="2.25" fill="#a8a8a8"/>
<circle cx="71.55" cy="430.85" r="2.25" fill="#a8a8a8"/>
<circle cx="95.47" cy="430.85" r="2.25" fill="#a8a8a8"/>
<circle cx="119.39" cy="430.85" r="2.25" fill="#a8a8a8"/>
<circle cx="143.31" cy="379.37" r="2.25" fill="#a8a8a8"/>
<circle cx="167.23" cy="379.37" r="2.25" fill="#a8a8a8"/>
<circle cx="191.15" cy="362.21" r="2.25" fill="#a8a8a8"/>
<circle cx="215.07" cy="396.53" r="2.25" fill="#a8a8a8"/>
<circle cx="238.99" cy="430.85" r="2.25" fill="#a8a8a8"/>
<circle cx="262.91" cy="413.69" r="2.25" fill="#a8a8a8"/>
<circle cx="286.83" cy="396.53" r="2.25" fill="#a8a8a8"/>
<circle cx="71.55" cy="430.85" r="2.25" fill="#a8a8a8"/>
<circle cx="95.47" cy="430.85" r="2.25" fill="#a8a8a8"/>
<circle cx="119.39" cy="430.85" r="2.25" fill="#a8a8a8"/>
<circle cx="143.31" cy="413.69" r="2.25" fill="#a8a8a8"/>
<circle cx="167.23" cy="396.53" r="2.25" fill="#a8a8a8"/>
<circle cx="191.15" cy="413.69" r="2.25" fill="#a8a8a8"/>
<circle cx="215.07" cy="430.85" r="2.25" fill="#a8a8a8"/>
<circle cx="238.99" cy="430.85" r="2.25" fill="#a8a8a8"/>
<circle cx="262.91" cy="430.85" r="2.25" fill="#a8a8a8"/>
<circle cx="286.83" cy="327.89" r="2.25" fill="#a8a8a8"/>
<circle cx="71.55" cy="430.85" r="2.25" fill="#a8a8a8"/>
<circle cx="95.47" cy="430.85" r="2.25" fill="#a8a8a8"/>
<circle cx="119.39" cy="430.85" r="2.25" fill="#a8a8a8"/>
<circle cx="143.31" cy="430.85" r="2.25" fill="#a8a8a8"/>
<circle cx="167.23" cy="413.69" r="2.25" fill="#a8a8a8"/>
<circle cx="191.15" cy="413.69" r="2.25" fill="#a8a8a8"/>
<circle cx="215.07" cy="396.53" r="2.25" fill="#a8a8a8"/>
<circle cx="238.99" cy="396.53" r="2.25" fill="#a8a8a8"/>
<circle cx="262.91" cy="379.37" r="2.25" fill="#a8a8a8"/>
<circle cx="286.83" cy="362.21" r="2.25" fill="#a8a8a8"/>
<polygon points="71.55,422.78 95.47,420.03 119.39,417.58 143.31,407.2 167.23,389.04 191.15,392.48 215.07,394.22 238.99,398.08 262.91,391.1 286.83,326.79 286.83,353.5 262.91,406.86 238.99,414.59 215.07,408.65 191.15,410.38 167.23,404.02 143.31,420.18 119.39,424.51 95.47,426.96 71.55,429.11" fill="#e8dcae" fill-opacity="0.36"/>
<line x1="59.8" y1="396.53" x2="322.8" y2="396.53" stroke="#f23a2c" stroke-width="1.5" stroke-dasharray="4.68 4.32" stroke-dashoffset="0"/>
<polyline points="71.55,425.95 95.47,423.5 119.39,421.04 143.31,413.69 167.23,396.53 191.15,401.43 215.07,401.43 238.99,406.34 262.91,398.98 286.83,340.15" fill="none" stroke="#d4a02c" stroke-width="4.6" stroke-linejoin="miter" stroke-linecap="butt" stroke-opacity="0.95"/>
<rect x="59.8" y="250.5" width="263" height="189" fill="none" stroke="#bdbdbd" stroke-width="1.1"/>
<line x1="71.55" y1="439.5" x2="71.55" y2="442.7" stroke="#bdbdbd" stroke-width="1"/>
<text x="68.8" y="452" font-size="9.9" fill="#5a5a5a">0</text>
<line x1="119.39" y1="439.5" x2="119.39" y2="442.7" stroke="#bdbdbd" stroke-width="1"/>
<text x="116.64" y="452" font-size="9.9" fill="#5a5a5a">2</text>
<line x1="167.23" y1="439.5" x2="167.23" y2="442.7" stroke="#bdbdbd" stroke-width="1"/>
<text x="164.48" y="452" font-size="9.9" fill="#5a5a5a">4</text>
<line x1="215.07" y1="439.5" x2="215.07" y2="442.7" stroke="#bdbdbd" stroke-width="1"/>
<text x="212.32" y="452" font-size="9.9" fill="#5a5a5a">6</text>
<line x1="262.91" y1="439.5" x2="262.91" y2="442.7" stroke="#bdbdbd" stroke-width="1"/>
<text x="260.16" y="452" font-size="9.9" fill="#5a5a5a">8</text>
<line x1="310.75" y1="439.5" x2="310.75" y2="442.7" stroke="#bdbdbd" stroke-width="1"/>
<path d="M308.51,452V445.07M308.71,445.37C307.92,446.26 307.13,446.75 306.33,447.25" stroke="#5a5a5a" stroke-width="0.91" fill="none"/><text x="310.75" y="452" font-size="9.9" fill="#5a5a5a">0</text>
<line x1="56.6" y1="430.85" x2="59.8" y2="430.85" stroke="#bdbdbd" stroke-width="1"/>
<text x="48.9" y="434.1" font-size="9.9" fill="#5a5a5a">0</text>
<line x1="56.6" y1="413.69" x2="59.8" y2="413.69" stroke="#bdbdbd" stroke-width="1"/>
<path d="M52.16,416.94V410.01M52.36,410.31C51.57,411.2 50.78,411.69 49.98,412.19" stroke="#5a5a5a" stroke-width="0.91" fill="none"/>
<line x1="56.6" y1="396.53" x2="59.8" y2="396.53" stroke="#bdbdbd" stroke-width="1"/>
<text x="48.9" y="399.78" font-size="9.9" fill="#5a5a5a">2</text>
<line x1="56.6" y1="379.37" x2="59.8" y2="379.37" stroke="#bdbdbd" stroke-width="1"/>
<text x="48.9" y="382.62" font-size="9.9" fill="#5a5a5a">3</text>
<line x1="56.6" y1="362.21" x2="59.8" y2="362.21" stroke="#bdbdbd" stroke-width="1"/>
<text x="48.9" y="365.46" font-size="9.9" fill="#5a5a5a">4</text>
<line x1="56.6" y1="345.05" x2="59.8" y2="345.05" stroke="#bdbdbd" stroke-width="1"/>
<text x="48.9" y="348.3" font-size="9.9" fill="#5a5a5a">5</text>
<line x1="56.6" y1="327.89" x2="59.8" y2="327.89" stroke="#bdbdbd" stroke-width="1"/>
<text x="48.9" y="331.14" font-size="9.9" fill="#5a5a5a">6</text>
<line x1="56.6" y1="310.73" x2="59.8" y2="310.73" stroke="#bdbdbd" stroke-width="1"/>
<text x="48.9" y="313.98" font-size="9.9" fill="#5a5a5a">7</text>
<line x1="56.6" y1="293.57" x2="59.8" y2="293.57" stroke="#bdbdbd" stroke-width="1"/>
<text x="48.9" y="296.82" font-size="9.9" fill="#5a5a5a">8</text>
<line x1="56.6" y1="276.41" x2="59.8" y2="276.41" stroke="#bdbdbd" stroke-width="1"/>
<text x="48.9" y="279.66" font-size="9.9" fill="#5a5a5a">9</text>
<line x1="56.6" y1="259.25" x2="59.8" y2="259.25" stroke="#bdbdbd" stroke-width="1"/>
<path d="M46.66,262.5V255.57M46.86,255.87C46.06,256.76 45.27,257.25 44.48,257.75" stroke="#5a5a5a" stroke-width="0.91" fill="none"/><text x="48.9" y="262.5" font-size="9.9" fill="#5a5a5a">0</text>
<text x="188.83" y="231.1" text-anchor="middle" font-size="11.8" fill="#1a1a1a">Week</text>
<text x="534.12" y="231.3" text-anchor="middle" font-size="11.8" fill="#1a1a1a">Week</text>
<text x="191.3" y="464.7" text-anchor="middle" font-size="11.8" fill="#1a1a1a">Week</text>
<text transform="translate(32.8,109.5) rotate(-90)" text-anchor="middle" font-size="11.8" fill="#1a1a1a">SP_ratios</text>
<text transform="translate(378.0,109.05) rotate(-90)" text-anchor="middle" font-size="11.8" fill="#1a1a1a">Antigens_Recognized</text>
<text transform="translate(38.9,345) rotate(-90)" text-anchor="middle" font-size="11.6" fill="#1a1a1a">Antigens Recognized</text>
<line x1="261.67" y1="229.1" x2="261.67" y2="237.8" stroke="#111" stroke-width="1.3"/><polygon points="261.67,221 266.07,229.6 257.27,229.6" fill="#000"/>
<line x1="607.33" y1="229.1" x2="607.33" y2="237.8" stroke="#9a9a9a" stroke-width="1.3"/><polygon points="607.33,221.4 611.53,229.6 603.13,229.6" fill="#000"/>
<line x1="262.91" y1="462.2" x2="262.91" y2="471.5" stroke="#9a9a9a" stroke-width="1.3"/><polygon points="262.91,455.1 267.11,462.7 258.71,462.7" fill="#000"/>
<path d="M505.95,115.95V120.85M503.85,117.1L508.05,119.7M503.85,119.7L508.05,117.1" stroke="#111" stroke-width="1.0" fill="none"/><circle cx="505.95" cy="118.4" r="1" fill="#111"/>
<path d="M512.05,115.95V120.85M509.95,117.1L514.15,119.7M509.95,119.7L514.15,117.1" stroke="#111" stroke-width="1.0" fill="none"/><circle cx="512.05" cy="118.4" r="1" fill="#111"/>
<path d="M534,115.95V120.85M531.9,117.1L536.1,119.7M531.9,119.7L536.1,117.1" stroke="#111" stroke-width="1.0" fill="none"/><circle cx="534" cy="118.4" r="1" fill="#111"/>
<path d="M559.1,132.45V137.35M557,133.6L561.2,136.2M557,136.2L561.2,133.6" stroke="#111" stroke-width="1.0" fill="none"/><circle cx="559.1" cy="134.9" r="1" fill="#111"/>
<path d="M583.5,132.45V137.35M581.4,133.6L585.6,136.2M581.4,136.2L585.6,133.6" stroke="#111" stroke-width="1.0" fill="none"/><circle cx="583.5" cy="134.9" r="1" fill="#111"/>
<path d="M629.25,43.45V48.35M627.15,44.6L631.35,47.2M627.15,47.2L631.35,44.6" stroke="#111" stroke-width="1.0" fill="none"/><circle cx="629.25" cy="45.9" r="1" fill="#111"/>
<path d="M635.35,43.45V48.35M633.25,44.6L637.45,47.2M633.25,47.2L637.45,44.6" stroke="#111" stroke-width="1.0" fill="none"/><circle cx="635.35" cy="45.9" r="1" fill="#111"/>
<path d="M167.1,351.25V356.15M165,352.4L169.2,355M165,355L169.2,352.4" stroke="#111" stroke-width="1.0" fill="none"/><circle cx="167.1" cy="353.7" r="1" fill="#111"/>
<path d="M262,360.05V364.95M259.9,361.2L264.1,363.8M259.9,363.8L264.1,361.2" stroke="#111" stroke-width="1.0" fill="none"/><circle cx="262" cy="362.5" r="1" fill="#111"/>
<path d="M282.85,281.95V286.85M280.75,283.1L284.95,285.7M280.75,285.7L284.95,283.1" stroke="#111" stroke-width="1.0" fill="none"/><circle cx="282.85" cy="284.4" r="1" fill="#111"/>
<path d="M288.95,281.95V286.85M286.85,283.1L291.05,285.7M286.85,285.7L291.05,283.1" stroke="#111" stroke-width="1.0" fill="none"/><circle cx="288.95" cy="284.4" r="1" fill="#111"/>
</svg>
</body></html>
